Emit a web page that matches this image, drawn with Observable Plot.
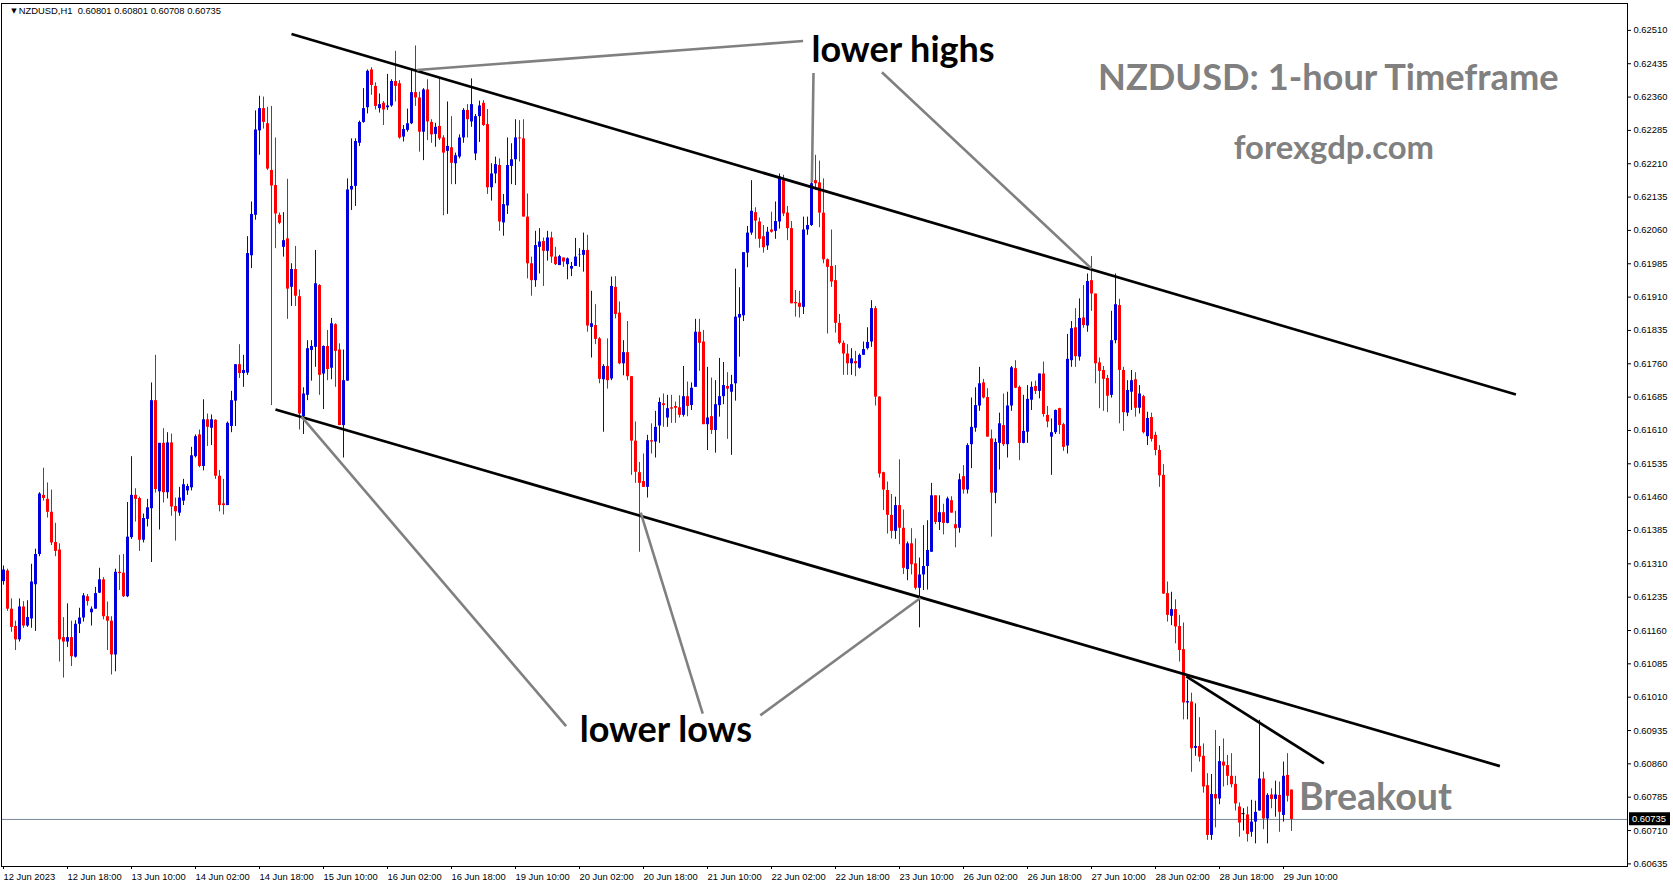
<!DOCTYPE html>
<html><head><meta charset="utf-8">
<script src="https://cdn.jsdelivr.net/npm/d3@7"></script>
<script src="https://cdn.jsdelivr.net/npm/@observablehq/plot@0.6"></script>
<style>
html,body{margin:0;padding:0;background:#fff;}
#chart svg{display:block;}
g[aria-label^="x-axis"] text{text-anchor:start;}
</style></head><body><div id="chart"></div>
<script>
const symbolName = "NZDUSD,H1";
const dateTickBars = [0,16,32,48,64,80,96,112,128,144,160,176,192,208,224,240,256,272,288,304,320];
const dateLabels = ["12 Jun 2023","12 Jun 18:00","13 Jun 10:00","14 Jun 02:00","14 Jun 18:00","15 Jun 10:00","16 Jun 02:00","16 Jun 18:00","19 Jun 10:00","20 Jun 02:00","20 Jun 18:00","21 Jun 10:00","22 Jun 02:00","22 Jun 18:00","23 Jun 10:00","26 Jun 02:00","26 Jun 18:00","27 Jun 10:00","28 Jun 02:00","28 Jun 18:00","29 Jun 10:00"];
const priceTicks = [0.62510,0.62435,0.62360,0.62285,0.62210,0.62135,0.62060,0.61985,0.61910,0.61835,0.61760,0.61685,0.61610,0.61535,0.61460,0.61385,0.61310,0.61235,0.61160,0.61085,0.61010,0.60935,0.60860,0.60785,0.60710,0.60635];
const currentPrice = 0.60735;

const opens = [0.61270,0.61294,0.61208,0.61169,0.61139,0.61213,0.61170,0.61186,0.61263,0.61331,
0.61464,0.61455,0.61426,0.61358,0.61341,0.61144,0.61134,0.61144,0.61100,0.61174,
0.61188,0.61236,0.61200,0.61208,0.61244,0.61274,0.61191,0.61181,0.61105,0.61291,
0.61289,0.61236,0.61369,0.61464,0.61457,0.61363,0.61410,0.61434,0.61677,0.61472,
0.61581,0.61470,0.61582,0.61439,0.61424,0.61451,0.61474,0.61481,0.61551,0.61600,
0.61529,0.61634,0.61615,0.61633,0.61507,0.61445,0.61441,0.61619,0.61676,0.61758,
0.61738,0.61739,0.62003,0.62094,0.62284,0.62334,0.62300,0.62195,0.62161,0.62094,
0.62022,0.62041,0.61932,0.61972,0.61911,0.61641,0.61689,0.61790,0.61797,0.61936,
0.61737,0.61799,0.61750,0.61848,0.61791,0.61621,0.61721,0.62151,0.62159,0.62256,
0.62303,0.62336,0.62421,0.62384,0.62334,0.62346,0.62336,0.62340,0.62395,0.62390,
0.62270,0.62285,0.62300,0.62370,0.62358,0.62281,0.62376,0.62303,0.62276,0.62294,
0.62268,0.62238,0.62246,0.62210,0.62225,0.62268,0.62330,0.62304,0.62232,0.62316,
0.62346,0.62298,0.62156,0.62187,0.62206,0.62077,0.62115,0.62204,0.62219,0.62268,
0.62266,0.62090,0.61985,0.61947,0.62022,0.62035,0.62013,0.62043,0.62000,0.61981,
0.61998,0.61983,0.61973,0.61979,0.62004,0.62004,0.62015,0.61842,0.61846,0.61816,
0.61724,0.61754,0.61726,0.61932,0.61874,0.61760,0.61785,0.61731,0.61586,0.61515,
0.61495,0.61482,0.61587,0.61584,0.61620,0.61670,0.61638,0.61661,0.61664,0.61661,
0.61644,0.61686,0.61666,0.61707,0.61831,0.61809,0.61623,0.61641,0.61610,0.61666,
0.61686,0.61709,0.61696,0.61715,0.61863,0.61868,0.62009,0.62054,0.62100,0.62079,
0.62046,0.62025,0.62061,0.62058,0.62079,0.62172,0.62099,0.62064,0.61898,0.61896,
0.61887,0.62061,0.62071,0.62172,0.62167,0.62099,0.61994,0.61979,0.61947,0.61851,
0.61806,0.61782,0.61760,0.61765,0.61750,0.61779,0.61794,0.61809,0.61884,0.61685,
0.61515,0.61475,0.61419,0.61383,0.61441,0.61390,0.61297,0.61355,0.61310,0.61255,
0.61285,0.61304,0.61336,0.61463,0.61403,0.61425,0.61401,0.61452,0.61398,0.61390,
0.61506,0.61476,0.61578,0.61615,0.61665,0.61717,0.61684,0.61591,0.61469,0.61581,
0.61621,0.61578,0.61665,0.61749,0.61707,0.61581,0.61606,0.61678,0.61709,0.61698,
0.61737,0.61644,0.61595,0.61605,0.61659,0.61623,0.61575,0.61767,0.61841,0.61775,
0.61863,0.61845,0.61947,0.61917,0.61762,0.61745,0.61727,0.61689,0.61812,0.61891,
0.61745,0.61649,0.61696,0.61724,0.61660,0.61686,0.61596,0.61639,0.61599,0.61565,
0.61509,0.61243,0.61192,0.61207,0.61169,0.61117,0.60997,0.60999,0.60895,0.60899,
0.60877,0.60811,0.60699,0.60791,0.60781,0.60864,0.60856,0.60832,0.60814,0.60763,
0.60748,0.60745,0.60706,0.60729,0.60754,0.60826,0.60736,0.60790,0.60780,0.60789,
0.60744,0.60834,0.60801];

const highs = [0.61305,0.61298,0.61231,0.61181,0.61231,0.61225,0.61227,0.61309,0.61343,0.61470,
0.61525,0.61492,0.61476,0.61401,0.61355,0.61189,0.61220,0.61181,0.61182,0.61210,
0.61243,0.61241,0.61213,0.61257,0.61300,0.61279,0.61224,0.61191,0.61298,0.61329,
0.61331,0.61448,0.61551,0.61479,0.61460,0.61422,0.61455,0.61717,0.61779,0.61581,
0.61614,0.61605,0.61602,0.61458,0.61482,0.61500,0.61489,0.61572,0.61600,0.61611,
0.61679,0.61647,0.61645,0.61634,0.61520,0.61500,0.61629,0.61698,0.61758,0.61803,
0.61779,0.62046,0.62124,0.62329,0.62362,0.62360,0.62337,0.62339,0.62268,0.62099,
0.62100,0.62175,0.61985,0.62024,0.61926,0.61706,0.61812,0.61812,0.62015,0.61938,
0.61800,0.61835,0.61862,0.61850,0.61805,0.61791,0.62176,0.62266,0.62266,0.62306,
0.62379,0.62421,0.62426,0.62392,0.62367,0.62350,0.62411,0.62399,0.62463,0.62397,
0.62296,0.62333,0.62421,0.62475,0.62371,0.62379,0.62399,0.62309,0.62301,0.62403,
0.62273,0.62349,0.62316,0.62234,0.62275,0.62334,0.62343,0.62401,0.62321,0.62351,
0.62352,0.62332,0.62210,0.62225,0.62221,0.62141,0.62268,0.62255,0.62309,0.62307,
0.62309,0.62142,0.62000,0.62058,0.62064,0.62043,0.62058,0.62056,0.62022,0.62004,
0.61998,0.61998,0.61988,0.62042,0.62019,0.62054,0.62049,0.61923,0.61893,0.61819,
0.61758,0.61816,0.61955,0.61956,0.61899,0.61812,0.61855,0.61731,0.61629,0.61538,
0.61557,0.61599,0.61625,0.61653,0.61683,0.61692,0.61689,0.61689,0.61674,0.61688,
0.61754,0.61719,0.61717,0.61860,0.61860,0.61835,0.61752,0.61728,0.61722,0.61772,
0.61763,0.61740,0.61734,0.61973,0.61931,0.62010,0.62069,0.62172,0.62111,0.62088,
0.62071,0.62067,0.62101,0.62124,0.62187,0.62184,0.62114,0.62080,0.61925,0.61923,
0.62090,0.62090,0.62210,0.62229,0.62216,0.62176,0.61996,0.62061,0.61981,0.61871,
0.61811,0.61803,0.61794,0.61788,0.61782,0.61809,0.61841,0.61902,0.61889,0.61686,
0.61516,0.61494,0.61466,0.61460,0.61544,0.61431,0.61359,0.61389,0.61366,0.61323,
0.61396,0.61407,0.61491,0.61463,0.61463,0.61444,0.61460,0.61461,0.61428,0.61512,
0.61531,0.61580,0.61683,0.61706,0.61752,0.61725,0.61704,0.61611,0.61591,0.61649,
0.61692,0.61696,0.61754,0.61767,0.61710,0.61689,0.61711,0.61719,0.61721,0.61737,
0.61764,0.61664,0.61636,0.61656,0.61660,0.61626,0.61826,0.61855,0.61884,0.61906,
0.61936,0.61962,0.62001,0.61917,0.61773,0.61754,0.61734,0.61878,0.61962,0.61905,
0.61752,0.61722,0.61745,0.61740,0.61711,0.61689,0.61651,0.61649,0.61606,0.61576,
0.61533,0.61269,0.61246,0.61229,0.61194,0.61177,0.61048,0.61019,0.60995,0.60964,
0.60905,0.60838,0.60836,0.60935,0.60899,0.60916,0.60879,0.60883,0.60832,0.60772,
0.60759,0.60763,0.60778,0.60776,0.60958,0.60841,0.60793,0.60804,0.60821,0.60819,
0.60864,0.60883,0.60801];

const lows = [0.61262,0.61203,0.61156,0.61115,0.61134,0.61165,0.61167,0.61165,0.61158,0.61326,
0.61451,0.61413,0.61351,0.61326,0.61089,0.61053,0.61122,0.61079,0.61098,0.61153,
0.61179,0.61215,0.61170,0.61208,0.61243,0.61184,0.61115,0.61060,0.61067,0.61250,
0.61234,0.61234,0.61365,0.61404,0.61338,0.61357,0.61393,0.61313,0.61469,0.61386,
0.61447,0.61456,0.61417,0.61361,0.61417,0.61441,0.61464,0.61474,0.61548,0.61526,
0.61519,0.61574,0.61576,0.61500,0.61427,0.61420,0.61441,0.61605,0.61619,0.61727,
0.61707,0.61734,0.61974,0.62083,0.62229,0.62288,0.62195,0.61666,0.62019,0.62073,
0.62000,0.61860,0.61889,0.61889,0.61611,0.61601,0.61677,0.61721,0.61752,0.61689,
0.61657,0.61722,0.61724,0.61707,0.61621,0.61548,0.61721,0.62105,0.62114,0.62249,
0.62301,0.62322,0.62364,0.62331,0.62324,0.62296,0.62330,0.62337,0.62349,0.62265,
0.62259,0.62281,0.62298,0.62339,0.62236,0.62217,0.62262,0.62256,0.62247,0.62262,
0.62093,0.62096,0.62163,0.62163,0.62221,0.62256,0.62268,0.62292,0.62217,0.62258,
0.62294,0.62141,0.62126,0.62165,0.62058,0.62047,0.62096,0.62163,0.62161,0.62214,
0.62090,0.61951,0.61912,0.61932,0.61962,0.61934,0.61991,0.61986,0.61981,0.61981,
0.61977,0.61949,0.61956,0.61979,0.61977,0.61966,0.61831,0.61773,0.61803,0.61715,
0.61606,0.61703,0.61722,0.61861,0.61758,0.61733,0.61722,0.61509,0.61491,0.61336,
0.61482,0.61458,0.61557,0.61548,0.61581,0.61617,0.61617,0.61626,0.61626,0.61638,
0.61640,0.61641,0.61655,0.61707,0.61743,0.61623,0.61565,0.61601,0.61559,0.61640,
0.61668,0.61590,0.61554,0.61676,0.61775,0.61855,0.61976,0.62049,0.62040,0.62020,
0.62009,0.62015,0.62054,0.62040,0.62063,0.62091,0.62037,0.61895,0.61865,0.61863,
0.61871,0.62049,0.62069,0.62150,0.62066,0.61985,0.61827,0.61932,0.61829,0.61803,
0.61734,0.61734,0.61734,0.61731,0.61748,0.61779,0.61791,0.61797,0.61665,0.61503,
0.61430,0.61377,0.61366,0.61365,0.61353,0.61286,0.61272,0.61285,0.61251,0.61166,
0.61250,0.61251,0.61336,0.61398,0.61385,0.61375,0.61400,0.61424,0.61346,0.61379,
0.61467,0.61467,0.61524,0.61606,0.61653,0.61681,0.61595,0.61370,0.61445,0.61521,
0.61574,0.61548,0.61653,0.61704,0.61542,0.61580,0.61581,0.61655,0.61691,0.61681,
0.61640,0.61616,0.61509,0.61601,0.61601,0.61563,0.61557,0.61752,0.61752,0.61766,
0.61840,0.61831,0.61878,0.61715,0.61659,0.61653,0.61650,0.61683,0.61805,0.61625,
0.61608,0.61641,0.61655,0.61640,0.61647,0.61602,0.61576,0.61584,0.61553,0.61482,
0.61241,0.61179,0.61171,0.61130,0.61089,0.60959,0.60959,0.60841,0.60877,0.60864,
0.60794,0.60688,0.60688,0.60716,0.60768,0.60808,0.60811,0.60806,0.60754,0.60695,
0.60709,0.60684,0.60695,0.60680,0.60754,0.60712,0.60680,0.60759,0.60740,0.60706,
0.60729,0.60774,0.60708];

const closes = [0.61296,0.61208,0.61167,0.61139,0.61213,0.61170,0.61189,0.61269,0.61331,0.61467,
0.61457,0.61426,0.61357,0.61338,0.61139,0.61134,0.61144,0.61101,0.61174,0.61188,
0.61238,0.61225,0.61208,0.61243,0.61274,0.61191,0.61181,0.61105,0.61291,0.61288,
0.61236,0.61370,0.61464,0.61455,0.61363,0.61412,0.61436,0.61677,0.61477,0.61581,
0.61470,0.61582,0.61438,0.61427,0.61458,0.61488,0.61484,0.61553,0.61596,0.61529,
0.61634,0.61617,0.61634,0.61507,0.61441,0.61441,0.61626,0.61677,0.61758,0.61738,
0.61745,0.62008,0.62096,0.62286,0.62334,0.62303,0.62198,0.62160,0.62097,0.62076,
0.62037,0.61928,0.61972,0.61912,0.61647,0.61692,0.61794,0.61799,0.61940,0.61734,
0.61799,0.61747,0.61850,0.61788,0.61621,0.61722,0.62151,0.62159,0.62260,0.62303,
0.62334,0.62418,0.62386,0.62339,0.62343,0.62331,0.62340,0.62395,0.62384,0.62268,
0.62287,0.62300,0.62370,0.62358,0.62281,0.62376,0.62304,0.62275,0.62292,0.62266,
0.62234,0.62249,0.62211,0.62228,0.62268,0.62330,0.62309,0.62343,0.62316,0.62340,
0.62296,0.62156,0.62187,0.62208,0.62079,0.62118,0.62206,0.62219,0.62268,0.62266,
0.62090,0.61985,0.61947,0.62026,0.62034,0.62013,0.62043,0.62000,0.61983,0.62001,
0.61989,0.61996,0.61979,0.62000,0.62005,0.62015,0.61845,0.61850,0.61815,0.61725,
0.61754,0.61722,0.61934,0.61871,0.61760,0.61785,0.61731,0.61586,0.61516,0.61491,
0.61482,0.61587,0.61584,0.61617,0.61673,0.61666,0.61659,0.61658,0.61660,0.61644,
0.61686,0.61664,0.61705,0.61831,0.61806,0.61623,0.61638,0.61610,0.61668,0.61686,
0.61711,0.61703,0.61713,0.61865,0.61871,0.62010,0.62054,0.62103,0.62081,0.62040,
0.62021,0.62056,0.62056,0.62080,0.62180,0.62097,0.62064,0.61895,0.61895,0.61887,
0.62061,0.62071,0.62165,0.62165,0.62099,0.61994,0.61977,0.61944,0.61851,0.61806,
0.61782,0.61760,0.61771,0.61760,0.61779,0.61792,0.61808,0.61884,0.61685,0.61512,
0.61476,0.61419,0.61383,0.61441,0.61390,0.61300,0.61355,0.61308,0.61255,0.61285,
0.61304,0.61340,0.61463,0.61403,0.61425,0.61401,0.61456,0.61424,0.61389,0.61499,
0.61476,0.61576,0.61617,0.61666,0.61715,0.61683,0.61595,0.61469,0.61583,0.61625,
0.61578,0.61665,0.61751,0.61705,0.61581,0.61608,0.61680,0.61707,0.61698,0.61737,
0.61646,0.61629,0.61605,0.61655,0.61621,0.61572,0.61770,0.61839,0.61776,0.61862,
0.61846,0.61945,0.61917,0.61760,0.61743,0.61725,0.61687,0.61812,0.61893,0.61745,
0.61650,0.61700,0.61722,0.61660,0.61692,0.61605,0.61637,0.61590,0.61565,0.61508,
0.61242,0.61194,0.61207,0.61168,0.61115,0.60997,0.61000,0.60894,0.60899,0.60875,
0.60808,0.60699,0.60791,0.60781,0.60865,0.60855,0.60832,0.60813,0.60770,0.60727,
0.60748,0.60701,0.60729,0.60751,0.60826,0.60736,0.60789,0.60780,0.60790,0.60751,
0.60832,0.60787,0.60735];

// drawn trend lines (bar index, price)
const trendStartBar = [72, 68, 295.7];
const trendStartPrice = [0.62502, 0.61657, 0.61057];
const trendEndBar = [378.1, 374.1, 330.1];
const trendEndPrice = [0.61691, 0.60855, 0.60861];

// grey pointer lines (bar index, price)
const pointerStartBar = [103.4, 202.5, 219.6, 74.5, 159.3, 229.25];
const pointerStartPrice = [0.62421, 0.62414, 0.62416, 0.61641, 0.61425, 0.61233];
const pointerEndBar = [199.9, 202.1, 272.0, 140.65, 174.8, 189.2];
const pointerEndPrice = [0.62486, 0.62168, 0.61974, 0.60945, 0.60973, 0.60969];

// annotation texts
const noteTexts = ["lower highs", "lower lows", "NZDUSD: 1-hour Timeframe", "forexgdp.com", "Breakout"];
const noteBars = [224.9, 165.6, 331.2, 332.6, 343.0];
const notePrices = [0.62465, 0.60936, 0.62402, 0.62245, 0.60783];

const n = opens.length;
if (![highs, lows, closes].every(a => a.length === n)) throw new Error("length mismatch " + [n, highs.length, lows.length, closes.length]);

const candles = d3.range(n).map(i => ({i, o: opens[i], h: highs[i], l: lows[i], c: closes[i]}));
const up = candles.filter(d => d.c > d.o);
const down = candles.filter(d => d.c < d.o);
const flat = candles.filter(d => d.c === d.o);
const BLUE = "#0000dd", RED = "#ff0000", GREY = "#808080";

const trends = trendStartBar.map((b, k) => ({x1: b, y1: trendStartPrice[k], x2: trendEndBar[k], y2: trendEndPrice[k]}));
const pointers = pointerStartBar.map((b, k) => ({x1: b, y1: pointerStartPrice[k], x2: pointerEndBar[k], y2: pointerEndPrice[k]}));
const notes = noteTexts.map((t, k) => ({t, x: noteBars[k], y: notePrices[k]}));

const last = candles[n - 1];
const header = `${symbolName}  ${last.o.toFixed(5)} ${last.h.toFixed(5)} ${last.l.toFixed(5)} ${last.c.toFixed(5)}`;

const xDomain = [-0.5, 406];
const yDomain = [0.606291, 0.625705];
// price tag to the right of the frame: its box spans 0.5 .. 10.75 bar-widths past the right edge
const tag = [{x1: xDomain[1] + 0.5, x2: xDomain[1] + 10.75, y1: currentPrice - 0.000142, y2: currentPrice + 0.000150, p: currentPrice}];

const noteMark = (k, size, color) => Plot.text([notes[k]], {
  x: "x", y: "y", text: "t", fontSize: size, fontWeight: "bold", fontFamily: "Lato",
  fill: color, textAnchor: "middle", lineAnchor: "middle"
});

const chart = Plot.plot({
  width: 1673,
  height: 888,
  marginLeft: 1,
  marginRight: 46,
  marginTop: 3,
  marginBottom: 22,
  style: {fontFamily: "Liberation Sans", fontSize: "9.4px", background: "#fff", overflow: "visible"},
  x: {type: "linear", domain: xDomain, axis: "bottom", ticks: dateTickBars,
      tickFormat: d => dateLabels[dateTickBars.indexOf(d)], tickSize: 3, tickPadding: 4, label: null},
  y: {type: "linear", domain: yDomain, axis: "right", ticks: priceTicks,
      tickFormat: d => d.toFixed(5), tickSize: 3, tickPadding: 3, label: null},
  marks: [
    Plot.ruleY([currentPrice], {stroke: "#778899", strokeWidth: 1}),
    Plot.ruleX(up, {x: "i", y1: "l", y2: "h", stroke: BLUE, strokeWidth: 1}),
    Plot.ruleX(down, {x: "i", y1: "l", y2: "h", stroke: RED, strokeWidth: 1}),
    Plot.ruleX(flat, {x: "i", y1: "l", y2: "h", stroke: "#000", strokeWidth: 1}),
    Plot.ruleX(up, {x: "i", y1: "o", y2: "c", stroke: BLUE, strokeWidth: 3}),
    Plot.ruleX(down, {x: "i", y1: "o", y2: "c", stroke: RED, strokeWidth: 3}),
    Plot.ruleY(flat, {y: "o", x1: d => d.i - 0.4, x2: d => d.i + 0.4, stroke: "#000", strokeWidth: 1}),
    Plot.link(trends, {x1: "x1", y1: "y1", x2: "x2", y2: "y2", stroke: "#000", strokeWidth: 2.7}),
    Plot.link(pointers, {x1: "x1", y1: "y1", x2: "x2", y2: "y2", stroke: GREY, strokeWidth: 2.6}),
    noteMark(0, 36, "#000"),
    noteMark(1, 36, "#000"),
    noteMark(2, 36.2, GREY),
    noteMark(3, 32.8, GREY),
    noteMark(4, 37.6, GREY),
    Plot.text(["\u25BC"], {text: d => d, frameAnchor: "top-left", dx: 9.7, dy: 7.7, fontSize: 7, fill: "#000", fontFamily: "DejaVu Sans", lineAnchor: "middle"}),
    Plot.text([header], {text: d => d, frameAnchor: "top-left", dx: 17.3, dy: 7.7, textAnchor: "start", lineAnchor: "middle", fontSize: 9.4, fill: "#000"}),
    Plot.frame({stroke: "#000"}),
    Plot.rect(tag, {x1: "x1", x2: "x2", y1: "y1", y2: "y2", fill: "#000"}),
    Plot.text(tag, {x: "x1", y: "p", text: d => d.p.toFixed(5), dx: 2.5, textAnchor: "start", lineAnchor: "middle", fill: "#fff", fontSize: 9.4, fontFamily: "Liberation Sans"})
  ]
});
document.getElementById("chart").appendChild(chart);
</script>
</body></html>
